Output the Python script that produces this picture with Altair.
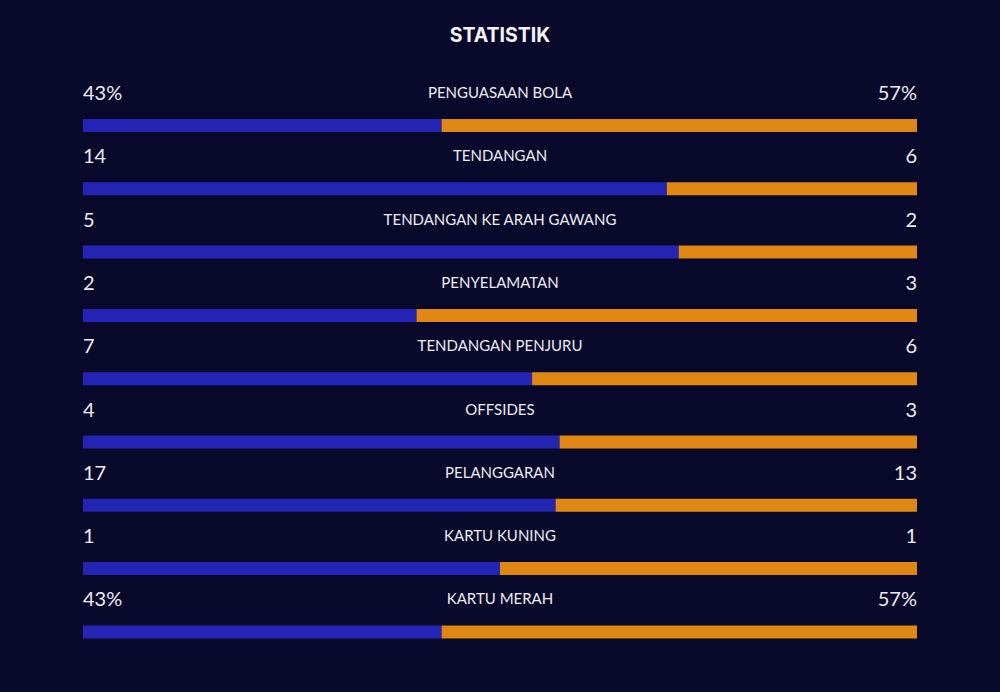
import altair as alt
import pandas as pd

labels = ["PENGUASAAN BOLA", "TENDANGAN", "TENDANGAN KE ARAH GAWANG", "PENYELAMATAN",
          "TENDANGAN PENJURU", "OFFSIDES", "PELANGGARAN", "KARTU KUNING", "KARTU MERAH"]
home_vals = [43, 14, 5, 2, 7, 4, 17, 1, 43]
away_vals = [57, 6, 2, 3, 6, 3, 13, 1, 57]
home_text = ["43%", "14", "5", "2", "7", "4", "17", "1", "43%"]
away_text = ["57%", "6", "2", "3", "6", "3", "13", "1", "57%"]

BG = "#08082a"
BLUE = "#2525b5"
ORANGE = "#df8814"
TXT = "#ececf2"

df = pd.DataFrame({
    "row": [i + 0.5 for i in range(len(labels))],
    "label": labels,
    "home": home_vals,
    "away": away_vals,
    "home_text": home_text,
    "away_text": away_text,
})

xs = alt.Scale(domain=[0, 1], range=[83, 917])
ys = alt.Scale(domain=[0, 9], range=[93.85, 663.55])

base = alt.Chart(df).transform_calculate(
    frac="datum.home / (datum.home + datum.away)", zero="0", one="1"
)

y_enc = alt.Y("row:Q", scale=ys, axis=None)

blue_bar = base.mark_rule(strokeWidth=13, color=BLUE, strokeCap="butt").encode(
    x=alt.X("zero:Q", scale=xs, axis=None), x2="frac:Q", y=y_enc)
orange_bar = base.mark_rule(strokeWidth=13, color=ORANGE, strokeCap="butt").encode(
    x=alt.X("frac:Q", scale=xs, axis=None), x2="one:Q", y=y_enc)

left_txt = base.mark_text(align="left", baseline="alphabetic", font="Lato", fontSize=20,
                          color=TXT, yOffset=-25.5).encode(
    x=alt.X("zero:Q", scale=xs, axis=None), y=y_enc, text="home_text:N")
right_txt = base.mark_text(align="right", baseline="alphabetic", font="Lato", fontSize=20,
                           color=TXT, yOffset=-25.5).encode(
    x=alt.X("one:Q", scale=xs, axis=None), y=y_enc, text="away_text:N")
mid_txt = base.mark_text(align="center", baseline="alphabetic", font="Lato", fontSize=15,
                         color=TXT, yOffset=-27.5).encode(
    x=alt.value(500), y=y_enc, text="label:N")

title = alt.Chart(pd.DataFrame({"t": ["STATISTIK"]})).mark_text(
    align="center", baseline="alphabetic", font="Inter", fontWeight="bold", fontSize=19.5,
    color="#f4f4f8").encode(x=alt.value(500), y=alt.value(42), text="t:N")

chart = alt.layer(blue_bar, orange_bar, left_txt, right_txt, mid_txt, title).properties(
    width=1000, height=692, background=BG, padding=0,
    autosize=alt.AutoSizeParams(type="none"),
).configure_view(stroke=None)

chart.save("out.html", embed_options={"renderer": "svg", "actions": False})
